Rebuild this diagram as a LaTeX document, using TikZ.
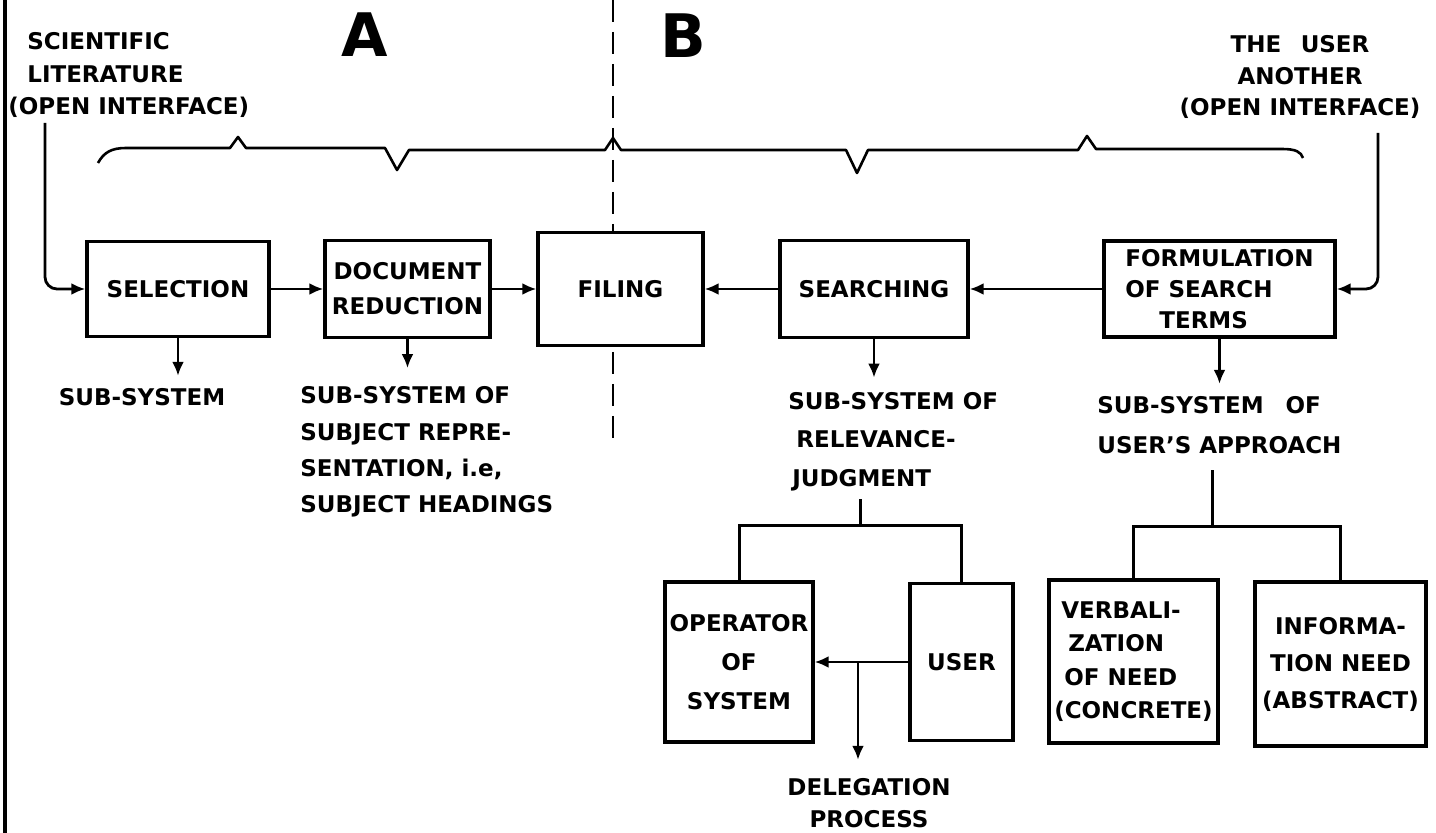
\documentclass[tikz,border=0pt]{standalone}
\usepackage{fontspec}
\setmainfont{DejaVu Sans}
\usetikzlibrary{arrows.meta}

\begin{document}
\begin{tikzpicture}[x=0.5pt,y=0.5pt,yscale=-1,xscale=1,
  lbl/.style={font=\bfseries\fontsize{11.5}{#1}\selectfont, inner sep=0pt},
  lbl/.default=17,
  blk/.style={draw, line width=1.6pt, fill=white, inner sep=1pt, font=\bfseries\fontsize{11.5}{#1}\selectfont},
  blk/.default=17,
  arr/.style={line width=1.4pt, -{Latex[length=7pt,width=6pt]}},
  ln/.style={line width=1.5pt}]
\useasboundingbox (0,0) rectangle (1436,833);

%Straight Lines [left edge]
\draw [line width=2pt] (5,0) -- (5,833);
%Dashed Line [A | B]
\draw [line width=1.2pt, dash pattern=on 11pt off 5pt] (613,0) -- (613,448);
%Curve Lines [brace]
\draw [line width=1.3pt, line join=round] (98,163) .. controls (104,152) and (112,148) .. (126,148) -- (230,148) -- (238,137) -- (246,148) -- (385,148) -- (397,170) -- (409,150) -- (605,150) -- (613,138) -- (621,150) -- (846,150) -- (857,173) -- (868,150) -- (1078,150) -- (1087,136) -- (1096,149) -- (1282,149) .. controls (1296,149) and (1301,152) .. (1303,158);

% Text Node
\node [font=\bfseries\fontsize{30}{30}\selectfont] (secA) at (365,35) {A};
% Text Node
\node [font=\bfseries\fontsize{30}{30}\selectfont] (secB) at (683,36) {B};
% Text Node
\node [lbl=16.3, align=left, anchor=west] (sci) at (8,75) {\hspace*{9.5pt}SCIENTIFIC\\\hspace*{9.5pt}LITERATURE\\(OPEN INTERFACE)};
% Text Node
\node [lbl=15.8, align=center] (usr) at (1300,77) {THE\hspace{0.5em} USER\\ANOTHER\\(OPEN INTERFACE)};

%Shape: Rectangle
\node [blk, minimum width=91pt, minimum height=47.5pt] (sel) at (178,289) {SELECTION};
%Shape: Rectangle
\node [blk=17.5, align=center, minimum width=82.5pt, minimum height=48.5pt] (docred) at (407.5,289) {DOCUMENT\\REDUCTION};
%Shape: Rectangle
\node [blk, minimum width=82.5pt, minimum height=56.5pt] (filing) at (620.5,289) {FILING};
%Shape: Rectangle
\node [blk, minimum width=94pt, minimum height=48.5pt] (search) at (874,289) {SEARCHING};
%Shape: Rectangle
\node [blk=15.5, align=left, minimum width=115.5pt, minimum height=48pt] (formul) at (1219.5,289) {FORMULATION\\OF SEARCH\\\hspace*{17pt}TERMS};

% Text Node
\node [lbl] (subsel) at (142,397) {SUB-SYSTEM};
% Text Node
\node [lbl=18.2, align=left, anchor=west] (subrep) at (300,452) {SUB-SYSTEM OF\\SUBJECT REPRE-\\SENTATION, i.e,\\SUBJECT HEADINGS};
% Text Node
\node [lbl=19.3, align=left, anchor=west] (relev) at (788,441.5) {SUB-SYSTEM OF\\\hspace*{4pt}RELEVANCE-\\\hspace*{2pt}JUDGMENT};
% Text Node
\node [lbl=20, align=left, anchor=west] (appr) at (1097,425) {SUB-SYSTEM\hspace{0.6em} OF\\USER'S APPROACH};

%Shape: Rectangle
\node [blk=19.5, align=center, minimum width=74pt, minimum height=80pt] (oper) at (739,662) {OPERATOR\\OF\\SYSTEM};
%Shape: Rectangle
\node [blk, minimum width=51.5pt, minimum height=78.5pt] (user) at (961.5,662) {USER};
%Shape: Rectangle
\node [blk=16.7, align=left, minimum width=84.5pt, minimum height=81.5pt] (verbal) at (1133.5,661.5) {\hspace*{3.5pt}VERBALI-\\\hspace*{7pt}ZATION\\\hspace*{5pt}OF NEED\\(CONCRETE)};
%Shape: Rectangle
\node [blk=18.5, align=center, minimum width=85.5pt, minimum height=82pt] (info) at (1340.5,664) {INFORMA-\\TION NEED\\(ABSTRACT)};
% Text Node
\node [lbl=16, align=center] (delegtxt) at (869,803) {DELEGATION\\PROCESS};

\coordinate (litin) at (45,123);
\coordinate (userin) at (1378,133);
\coordinate (relfork) at (860,526);
\coordinate (appfork) at (1212,527);
\coordinate (deleg) at (858,662);

%Straight Lines [main flow]
\draw [arr, rounded corners=6pt] (litin) |- (sel.west);
\draw [arr] (sel) -- (docred);
\draw [arr] (docred) -- (filing);
\draw [arr] (search) -- (filing);
\draw [arr] (formul) -- (search);
\draw [arr, rounded corners=6pt] (userin) |- (formul.east);
%Straight Lines [sub-systems]
\draw [arr, shorten >=6pt] (sel.south) -- (sel.south |- subsel.north);
\draw [arr, shorten >=9pt] (docred.south) -- (docred.south |- subrep.north);
\draw [arr, shorten >=7pt] (search.south) -- (search.south |- relev.north);
\draw [arr, shorten >=6pt] (formul.south) -- (formul.south |- appr.north);
%Straight Lines [trees]
\draw [ln, shorten <=4pt] (relev.south -| relfork) -- (relfork);
\draw [ln] (oper.north) |- (relfork) -| (user.north);
\draw [ln, shorten <=8pt] (appr.south -| appfork) -- (appfork);
\draw [ln] (verbal.north) |- (appfork) -| (info.north);
%Straight Lines [delegation]
\draw [arr] (user) -- (oper);
\draw [arr, shorten >=9pt] (deleg) -- (deleg |- delegtxt.north);

\end{tikzpicture}
\end{document}
